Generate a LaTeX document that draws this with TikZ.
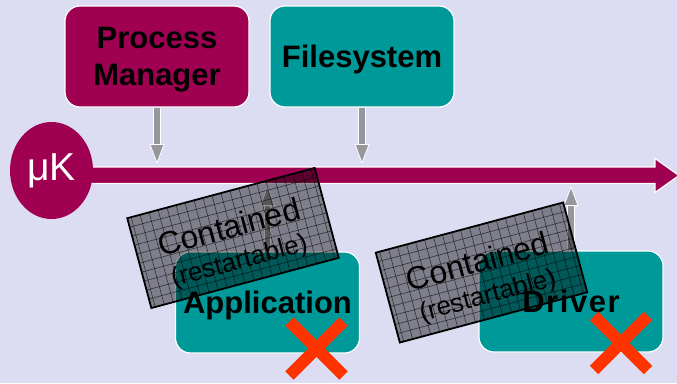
\documentclass[tikz,border=0pt]{standalone}
\usepackage{fontspec}
\setmainfont{Liberation Sans}
\usetikzlibrary{shapes.geometric,arrows.meta,calc}
\definecolor{bgcol}{RGB}{220,220,242}
\definecolor{magcol}{RGB}{160,0,82}
\definecolor{tealcol}{RGB}{0,153,153}
\definecolor{arrowgray}{RGB}{150,150,156}
\definecolor{xred}{RGB}{255,51,0}
\begin{document}
\begin{tikzpicture}[x=1pt,y=-1pt,
  box/.style={rounded corners=15pt, draw=white, line width=1.2pt,
    minimum width=184pt, minimum height=101pt, inner sep=0pt, align=center,
    text depth=0pt, font=\fontsize{31}{37}\selectfont\bfseries},
  magbox/.style={box, fill=magcol},
  tealbox/.style={box, fill=tealcol},
  garrow/.style={draw=arrowgray, line width=5.5pt,
    -{Triangle[length=20pt,width=15pt,line width=0.8pt,color=white,fill=arrowgray]},
    preaction={draw=white, line width=7.3pt, arrows=-, shorten >=14pt}},
  cbig/.style={font=\fontsize{32}{36}\selectfont, transform shape, inner sep=0pt},
  csmall/.style={font=\fontsize{26}{30}\selectfont, transform shape, inner sep=0pt},
  redx/.style={draw=xred, line width=12pt, line cap=butt}]

% background
\fill[bgcol] (0,0) rectangle (677,383);
\useasboundingbox (0,0) rectangle (677,383);

% server boxes
\node[magbox]  (pm)  at (157,56.5)   {Process\\Manager};
\node[tealbox] (fs)  at (362,56.5)   {Filesystem};
\node[tealbox] (app) at (267.5,302.5) {Application};
\node[tealbox] (drv) at (571,301.5)  {\addfontfeature{LetterSpace=5}Driver};

% message bus of the microkernel
\coordinate (barTop) at (0,164);
\coordinate (barBot) at (0,186);
\filldraw[fill=magcol, draw=white, line width=1.2pt]
  (80,167) -- (655,167) -- (655,158.5) -- (679,175.5) -- (655,192.5)
  -- (655,183.5) -- (80,183.5) -- cycle;
\node[ellipse, fill=magcol, minimum width=83pt, minimum height=97pt,
  text=white, font=\fontsize{39}{40}\selectfont, inner sep=0pt]
  (uk) at (51.5,170.5) {μK};

% messages to and from the bus
\draw[garrow] (pm.south)  -- (pm.south |- barTop);
\draw[garrow] (fs.south)  -- (fs.south |- barTop);
\draw[garrow] (app.north) -- (app.north |- barBot);
\draw[garrow] (drv.north) -- (drv.north |- barBot);

% hatched "contained" overlays
\foreach \cx/\cy/\nm in {233/238/ca, 481.5/272.5/cb}{
  \begin{scope}[shift={(\cx,\cy)}, rotate=15]
    \begin{scope}
      \clip (-97,-46.5) rectangle (97,46.5);
      \fill[black, fill opacity=0.42] (-97,-46.5) rectangle (97,46.5);
      \foreach \i in {-11,...,11}
        \draw[black, opacity=0.6, line width=0.6pt] (\i*9.3,-50) -- (\i*9.3,50);
      \foreach \j in {-6,...,6}
        \draw[black, opacity=0.6, line width=0.6pt] (-100,\j*9.3) -- (100,\j*9.3);
    \end{scope}
    \draw[black, line width=1.8pt] (-97,-46.5) rectangle (97,46.5);
    \node[cbig]   (\nm1) at (-1,-12) {Contained};
    \node[csmall] (\nm2) at (0,25)   {(restartable)};
  \end{scope}
}

% crashed servers
\coordinate (xa) at (316.5,348.5);
\coordinate (xb) at (621,343);
\foreach \c in {xa,xb}{
  \draw[redx] ($(\c)+(-27,-27)$) -- ($(\c)+(27,27)$);
  \draw[redx] ($(\c)+(-27,27)$) -- ($(\c)+(27,-27)$);
}
\end{tikzpicture}
\end{document}
